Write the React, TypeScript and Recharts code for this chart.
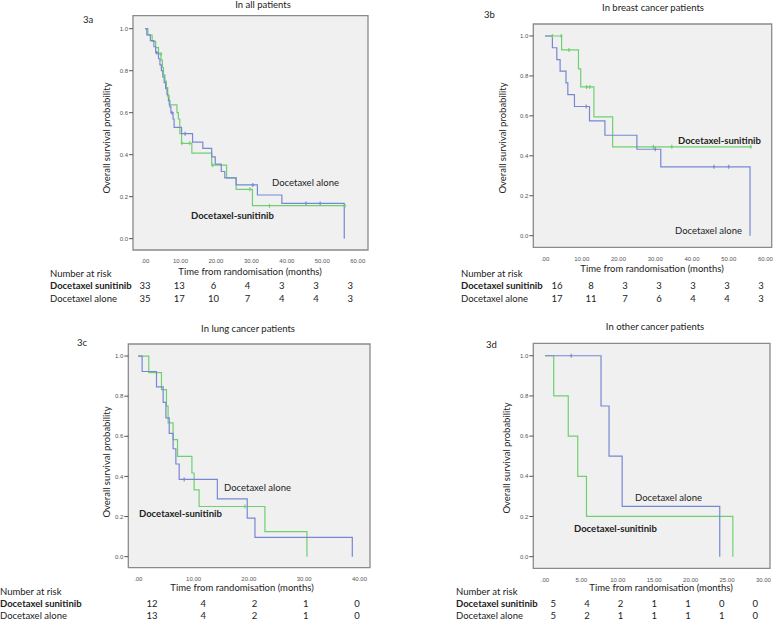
import { ComposedChart, Line, Scatter, XAxis, YAxis, CartesianGrid, ReferenceArea } from 'recharts';

type Pt = [number, number];

// 3a - all patients: [months, survival]
const A_ALONE: Pt[] = [
  [0, 1], [0.5, 0.971], [1.5, 0.943], [2.5, 0.914], [3.0, 0.886], [3.8, 0.857], [4.2, 0.828],
  [4.6, 0.8], [5.0, 0.771], [5.4, 0.743], [5.8, 0.714], [6.2, 0.686], [6.6, 0.657], [7.0, 0.628],
  [7.3, 0.6], [7.9, 0.57], [8.2, 0.53], [10.3, 0.5], [13.4, 0.46], [16.3, 0.43], [18.8, 0.39],
  [19.8, 0.355], [21.5, 0.32], [22.5, 0.29], [25.7, 0.256], [31.7, 0.208], [38.6, 0.168], [56.2, 0],
];
const A_SUN: Pt[] = [
  [0, 1], [0.8, 0.97], [2.0, 0.94], [3.0, 0.91], [3.8, 0.88], [4.5, 0.85], [4.9, 0.815], [5.2, 0.78],
  [5.6, 0.75], [6.0, 0.72], [6.4, 0.68], [6.8, 0.637], [9.0, 0.6], [9.4, 0.57], [9.8, 0.5],
  [10.3, 0.454], [13.2, 0.407], [18.8, 0.35], [23.0, 0.29], [25.7, 0.235], [30.3, 0.157], [56.4, 0.157],
];
const A_ALONE_CENS: Pt[] = [[3.3, 0.886], [7.6, 0.6], [11.3, 0.5], [30.4, 0.256], [45.4, 0.168], [49.4, 0.168]];
const A_SUN_CENS: Pt[] = [[4.5, 0.88], [5.2, 0.78], [6.6, 0.68], [10.4, 0.454], [12.6, 0.454], [19.1, 0.35], [29.6, 0.235], [35.1, 0.157], [56.4, 0.157]];
const A_RISK_SUN = [33, 13, 6, 4, 3, 3, 3];
const A_RISK_ALONE = [35, 17, 10, 7, 4, 4, 3];

// 3b - breast cancer
const B_ALONE: Pt[] = [
  [0, 1], [2.0, 0.941], [3.2, 0.882], [4.1, 0.824], [5.7, 0.765], [6.2, 0.706], [8.0, 0.647],
  [12.1, 0.575], [16.3, 0.503], [25.0, 0.433], [31.5, 0.345], [55.8, 0],
];
const B_SUN: Pt[] = [
  [0, 1], [4.5, 0.93], [9.1, 0.835], [9.7, 0.745], [13.3, 0.595], [18.4, 0.445], [56.0, 0.445],
];
const B_ALONE_CENS: Pt[] = [[11.2, 0.647], [30.0, 0.433], [46.0, 0.345], [50.0, 0.345]];
const B_SUN_CENS: Pt[] = [[2.0, 1], [4.4, 1], [6.5, 0.93], [11.3, 0.745], [12.2, 0.745], [29.5, 0.445], [34.5, 0.445], [56.0, 0.445]];
const B_RISK_SUN = [16, 8, 3, 3, 3, 3, 3];
const B_RISK_ALONE = [17, 11, 7, 6, 4, 4, 3];

// 3c - lung cancer
const C_ALONE: Pt[] = [
  [0, 1], [0.7, 0.923], [3.3, 0.846], [4.5, 0.769], [5.0, 0.692], [5.6, 0.615], [6.3, 0.538],
  [6.8, 0.462], [7.4, 0.385], [14.3, 0.288], [19.7, 0.192], [21.1, 0.096], [38.7, 0],
];
const C_SUN: Pt[] = [
  [0, 1], [1.9, 0.917], [4.2, 0.833], [5.1, 0.75], [5.4, 0.667], [6.3, 0.583], [7.1, 0.5],
  [9.7, 0.417], [10.1, 0.333], [11.0, 0.25], [22.9, 0.125], [30.5, 0],
];
const C_ALONE_CENS: Pt[] = [[8.3, 0.385]];
const C_SUN_CENS: Pt[] = [[19.3, 0.25]];
const C_RISK_SUN = [12, 4, 2, 1, 0];
const C_RISK_ALONE = [13, 4, 2, 1, 0];

// 3d - other cancers
const D_ALONE: Pt[] = [[0, 1], [7.7, 0.75], [8.8, 0.5], [10.6, 0.25], [24.0, 0]];
const D_SUN: Pt[] = [[0, 1], [1.2, 0.8], [3.2, 0.6], [4.5, 0.4], [5.7, 0.2], [25.8, 0]];
const D_ALONE_CENS: Pt[] = [[3.6, 1]];
const D_SUN_CENS: Pt[] = [];
const D_RISK_SUN = [5, 4, 2, 1, 1, 0, 0];
const D_RISK_ALONE = [5, 2, 1, 1, 1, 1, 0];

const TICKS_60 = [0, 10, 20, 30, 40, 50, 60];
const TICKS_40 = [0, 10, 20, 30, 40];
const TICKS_30 = [0, 5, 10, 15, 20, 25, 30];
const Y_TICKS = [0, 0.2, 0.4, 0.6, 0.8, 1.0];

const BLUE = '#7787d2';
const GREEN = '#6fd06f';
const FONT = "Lato, 'Open Sans', sans-serif";

const toObj = (pts: Pt[]) => pts.map(([t, s]) => ({ t, s }));

function Cens(color: string) {
  return (p: any) => {
    const { cx, cy } = p;
    if (cx == null || cy == null) return <g />;
    return (
      <path
        d={`M${cx},${cy - 2}V${cy + 2}M${cx - 1.2},${cy}H${cx + 1.2}`}
        stroke={color}
        strokeWidth={1.1}
        fill="none"
      />
    );
  };
}

function T({ x, y, children, bold, size = 9.5, mid }: any) {
  return (
    <div
      style={{
        position: 'absolute',
        left: x,
        top: y,
        transform: mid ? 'translate(-50%,-50%)' : 'translateY(-50%)',
        whiteSpace: 'nowrap',
        fontSize: size,
        lineHeight: 1,
        fontWeight: bold ? 700 : 400,
        color: '#222',
        fontFamily: FONT,
      }}
    >
      {children}
    </div>
  );
}

function KMPanel({ area, box, xDomain, yDomain, xTicks, alone, sun, aloneCens, sunCens }: any) {
  const YW = 22;
  const XH = 14;
  const margin = {
    left: box.l - area.x - YW,
    top: box.t - area.y,
    right: area.x + area.w - box.r,
    bottom: area.y + area.h - box.b - XH,
  };
  return (
    <div style={{ position: 'absolute', left: area.x, top: area.y }}>
      <ComposedChart width={area.w} height={area.h} margin={margin}>
        <CartesianGrid fill="#f0f0f0" horizontal={false} vertical={false} stroke="none" />
        <XAxis
          type="number"
          dataKey="t"
          domain={xDomain}
          ticks={xTicks}
          allowDataOverflow
          height={XH}
          axisLine={false}
          tickLine={false}
          tickMargin={3}
          interval={0}
          tick={{ fontSize: 6, fill: '#555', fontFamily: 'Liberation Sans' }}
          tickFormatter={(v: number) => (v === 0 ? '.00' : v.toFixed(2))}
        />
        <YAxis
          type="number"
          dataKey="s"
          domain={yDomain}
          ticks={Y_TICKS}
          allowDataOverflow
          width={YW}
          axisLine={false}
          tickSize={4}
          tickMargin={1}
          interval={0}
          tickLine={{ stroke: '#555' }}
          tick={{ fontSize: 6, fill: '#555', fontFamily: 'Liberation Sans' }}
          tickFormatter={(v: number) => v.toFixed(1)}
        />
        <ReferenceArea
          x1={xDomain[0]}
          x2={xDomain[1]}
          y1={yDomain[0]}
          y2={yDomain[1]}
          fill="none"
          stroke="#8a8a8a"
          strokeWidth={1.3}
          ifOverflow="visible"
        />
        <Line data={toObj(sun)} dataKey="s" type="stepAfter" stroke={GREEN} strokeWidth={1.2} dot={false} isAnimationActive={false} />
        <Line data={toObj(alone)} dataKey="s" type="stepAfter" stroke={BLUE} strokeWidth={1.2} dot={false} isAnimationActive={false} />
        <Scatter data={toObj(sunCens)} dataKey="s" shape={Cens(GREEN)} isAnimationActive={false} />
        <Scatter data={toObj(aloneCens)} dataKey="s" shape={Cens(BLUE)} isAnimationActive={false} />
      </ComposedChart>
    </div>
  );
}

function RiskTable({ x, y, numX, numStep, sun, alone }: any) {
  return (
    <>
      <T x={x} y={y}>Number at risk</T>
      <T x={x} y={y + 12.3} bold>Docetaxel sunitinib</T>
      <T x={x} y={y + 24.5}>Docetaxel alone</T>
      {sun.map((v: number, i: number) => (
        <T key={`s${i}`} x={numX + i * numStep} y={y + 12.3} mid>{v}</T>
      ))}
      {alone.map((v: number, i: number) => (
        <T key={`a${i}`} x={numX + i * numStep} y={y + 24.5} mid>{v}</T>
      ))}
    </>
  );
}

function YTitle({ x, y }: any) {
  return (
    <div
      style={{
        position: 'absolute',
        left: x,
        top: y,
        transform: 'translate(-50%,-50%) rotate(-90deg)',
        whiteSpace: 'nowrap',
        fontSize: 9.5,
        lineHeight: 1,
        color: '#222',
        fontFamily: FONT,
      }}
    >
      Overall survival probability
    </div>
  );
}

export default function App() {
  return (
    <div style={{ position: 'absolute', left: 0, top: 0, width: 777, height: 620, background: '#fff', overflow: 'hidden' }}>
      {/* 3a */}
      <KMPanel
        area={{ x: 0, y: 0, w: 390, h: 310 }}
        box={{ l: 133, t: 15.7, r: 368, b: 250 }}
        xDomain={[-3.4, 62.9]}
        yDomain={[-0.054, 1.062]}
        xTicks={TICKS_60}
        alone={A_ALONE}
        sun={A_SUN}
        aloneCens={A_ALONE_CENS}
        sunCens={A_SUN_CENS}
      />
      <T x={263} y={5} mid>In all patients</T>
      <T x={83} y={20}>3a</T>
      <YTitle x={107} y={138} />
      <T x={250} y={272} mid>Time from randomisation (months)</T>
      <T x={272} y={183}>Docetaxel alone</T>
      <T x={191} y={215.5} bold>Docetaxel-sunitinib</T>
      <RiskTable x={50} y={274} numX={145} numStep={34.2} sun={A_RISK_SUN} alone={A_RISK_ALONE} />

      {/* 3b */}
      <KMPanel
        area={{ x: 390, y: 0, w: 387, h: 310 }}
        box={{ l: 533.3, t: 24, r: 771.7, b: 247.3 }}
        xDomain={[-3.2, 61.7]}
        yDomain={[-0.058, 1.06]}
        xTicks={TICKS_60}
        alone={B_ALONE}
        sun={B_SUN}
        aloneCens={B_ALONE_CENS}
        sunCens={B_SUN_CENS}
      />
      <T x={653} y={8} mid>In breast cancer patients</T>
      <T x={484} y={15}>3b</T>
      <YTitle x={503} y={138} />
      <T x={652} y={269} mid>Time from randomisation (months)</T>
      <T x={678} y={141} bold>Docetaxel-sunitinib</T>
      <T x={675} y={231}>Docetaxel alone</T>
      <RiskTable x={461} y={274} numX={557} numStep={34} sun={B_RISK_SUN} alone={B_RISK_ALONE} />

      {/* 3c */}
      <KMPanel
        area={{ x: 0, y: 310, w: 390, h: 310 }}
        box={{ l: 128.3, t: 344, r: 370, b: 567.7 }}
        xDomain={[-1.8, 41.9]}
        yDomain={[-0.055, 1.06]}
        xTicks={TICKS_40}
        alone={C_ALONE}
        sun={C_SUN}
        aloneCens={C_ALONE_CENS}
        sunCens={C_SUN_CENS}
      />
      <T x={248} y={329} mid>In lung cancer patients</T>
      <T x={77} y={343}>3c</T>
      <YTitle x={107} y={462} />
      <T x={242} y={588} mid>Time from randomisation (months)</T>
      <T x={224} y={488}>Docetaxel alone</T>
      <T x={139} y={513.5} bold>Docetaxel-sunitinib</T>
      <RiskTable x={0} y={591.7} numX={152} numStep={51.25} sun={C_RISK_SUN} alone={C_RISK_ALONE} />

      {/* 3d */}
      <KMPanel
        area={{ x: 390, y: 310, w: 387, h: 310 }}
        box={{ l: 533.3, t: 343.3, r: 770, b: 568.3 }}
        xDomain={[-1.6, 30.9]}
        yDomain={[-0.058, 1.062]}
        xTicks={TICKS_30}
        alone={D_ALONE}
        sun={D_SUN}
        aloneCens={D_ALONE_CENS}
        sunCens={D_SUN_CENS}
      />
      <T x={655} y={327} mid>In other cancer patients</T>
      <T x={486} y={345}>3d</T>
      <YTitle x={507} y={458} />
      <T x={661} y={588} mid>Time from randomisation (months)</T>
      <T x={635} y={498}>Docetaxel alone</T>
      <T x={574} y={528.5} bold>Docetaxel-sunitinib</T>
      <RiskTable x={456} y={591.7} numX={553.3} numStep={33.67} sun={D_RISK_SUN} alone={D_RISK_ALONE} />
    </div>
  );
}
